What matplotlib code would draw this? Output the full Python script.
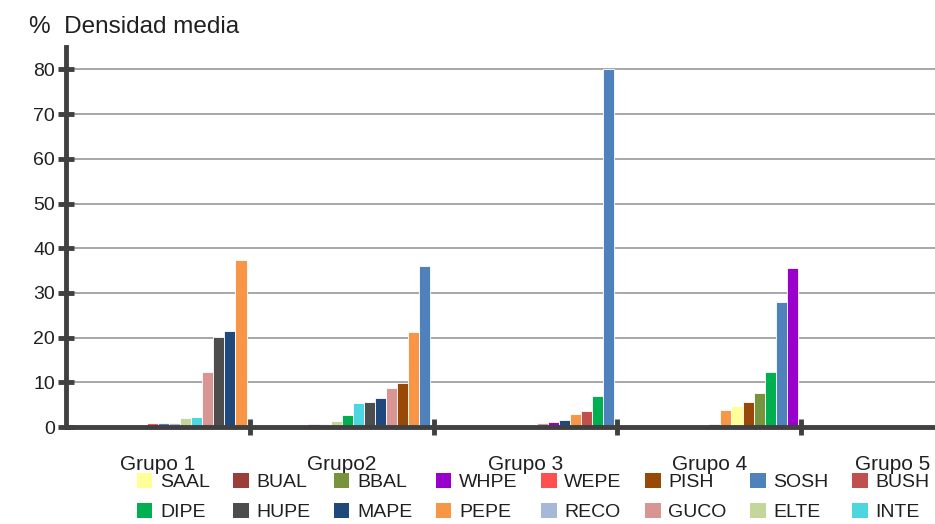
import matplotlib
matplotlib.use('Agg')
import matplotlib.pyplot as plt
import numpy as np
from matplotlib.patches import Patch

plt.rcParams['font.family'] = ['Liberation Sans', 'DejaVu Sans']

GROUPS = ['Grupo 1', 'Grupo2', 'Grupo 3', 'Grupo 4', 'Grupo 5']
SPECIES = ['SAAL', 'BUAL', 'BBAL', 'WHPE', 'WEPE', 'PISH', 'SOSH', 'BUSH',
           'DIPE', 'HUPE', 'MAPE', 'PEPE', 'RECO', 'GUCO', 'ELTE', 'INTE']
COLORS = ['#FFFF99', '#9C3D3A', '#77933C', '#9900CC', '#FF5050', '#984807', '#4F81BD', '#C0504D',
          '#00B050', '#4D4D4D', '#1F497D', '#F79646', '#A6B8D8', '#D99594', '#C4D79B', '#4BD6E0']

# density (%) per species, one value per group
SAAL = [0.0, 0.0, 0.0, 4.6, 0.0]
BUAL = [0.0, 0.0, 0.0, 0.0, 0.0]
BBAL = [0.0, 0.0, 0.0, 7.6, 0.0]
WHPE = [0.0, 0.6, 1.1, 35.5, 0.0]
WEPE = [0.9, 0.0, 0.0, 0.0, 0.0]
PISH = [0.0, 9.8, 0.0, 5.6, 0.0]
SOSH = [0.9, 36.1, 80.0, 27.9, 0.0]
BUSH = [0.0, 0.0, 3.6, 0.0, 0.0]
DIPE = [0.0, 2.6, 7.0, 12.3, 0.0]
HUPE = [20.2, 5.7, 0.0, 0.0, 0.0]
MAPE = [21.5, 6.4, 1.6, 0.6, 0.0]
PEPE = [37.4, 21.2, 2.8, 3.7, 0.0]
RECO = [0.9, 0.6, 0.0, 0.0, 0.0]
GUCO = [12.2, 8.7, 0.9, 0.0, 0.0]
ELTE = [2.1, 1.3, 0.0, 0.0, 0.0]
INTE = [2.2, 5.3, 0.4, 0.0, 0.0]

values = np.array([SAAL, BUAL, BBAL, WHPE, WEPE, PISH, SOSH, BUSH,
                   DIPE, HUPE, MAPE, PEPE, RECO, GUCO, ELTE, INTE])

fig = plt.figure(figsize=(9.35, 5.24), dpi=100)
ax = fig.add_axes([66 / 935., 97 / 524., 919 / 935., 0.725])

n = len(SPECIES)
slot = 0.0603
# bars inside each group are ordered from smallest to largest
for g in range(len(GROUPS)):
    order = np.argsort(values[:, g], kind='stable')
    for k, s in enumerate(order):
        x = g - n * slot / 2 + (k + 0.5) * slot
        ax.bar(x, values[s, g], width=slot, color=COLORS[s], edgecolor='white', linewidth=0.6, zorder=2)

ax.set_xlim(-0.5, len(GROUPS) - 0.5)
ax.set_ylim(0, 85)
ax.set_yticks(np.arange(0, 81, 10))
ax.yaxis.grid(True, color='#A0A0A0', linewidth=1.3, zorder=0)
ax.set_axisbelow(True)

ax.set_xticks(np.arange(len(GROUPS)))
ax.set_xticklabels(GROUPS)
ax.set_xticks(np.arange(len(GROUPS)) + 0.5, minor=True)
ax.tick_params(axis='x', which='major', length=0, pad=20, labelsize=15, labelcolor='#202020')
ax.tick_params(axis='x', which='minor', direction='inout', length=12, width=3.5, color='#404040')
ax.tick_params(axis='y', direction='inout', length=12, width=3.5, color='#404040', pad=2,
               labelsize=14, labelcolor='#202020')

for side in ['top', 'right']:
    ax.spines[side].set_visible(False)
for side in ['left', 'bottom']:
    ax.spines[side].set_linewidth(3.5)
    ax.spines[side].set_color('#404040')
    ax.spines[side].set_zorder(3)

fig.text(29 / 935., 1 - 27 / 524., '%  Densidad media', fontsize=17.5, color='#202020', va='center')

# legend in two rows, filled row by row
handles = [Patch(facecolor=c, edgecolor='none') for c in COLORS]
ncol = 8
h_order = [r * ncol + c for c in range(ncol) for r in range(2)]
ax.legend([handles[i] for i in h_order], [SPECIES[i] for i in h_order],
          ncol=ncol, loc='center', bbox_to_anchor=(533 / 935., 27 / 524.),
          bbox_transform=fig.transFigure, frameon=False, fontsize=14,
          handlelength=0.8, handleheight=0.8, handletextpad=0.4,
          columnspacing=1.2, labelspacing=0.6, labelcolor='#202020')

fig.savefig('out.png', dpi=100)
